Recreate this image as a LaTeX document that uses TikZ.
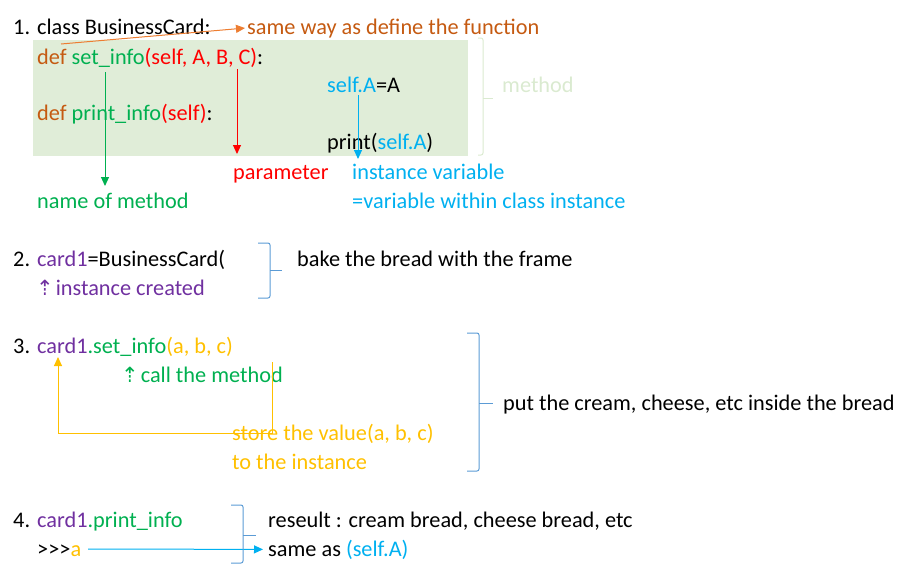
\documentclass[tikz,border=0pt]{standalone}
\usepackage{fontspec}
\setmainfont{Carlito}
\newfontfamily\arrowfont{DejaVu Sans}
\usepackage{tikz}
\usepackage{xcolor}
\usetikzlibrary{arrows.meta,positioning}
\definecolor{defBrown}{RGB}{197,90,17}
\definecolor{linkOrange}{RGB}{237,125,49}
\definecolor{codeGreen}{RGB}{0,176,80}
\definecolor{codeRed}{RGB}{255,0,0}
\definecolor{codeBlue}{RGB}{0,176,240}
\definecolor{codePurple}{RGB}{112,48,160}
\definecolor{codeYellow}{RGB}{255,192,0}
\definecolor{boxGreen}{RGB}{224,237,216}
\definecolor{paleGreen}{RGB}{218,234,208}
\definecolor{braceBlue}{RGB}{91,155,213}
\tikzset{
  txt/.style={anchor=base west, inner sep=0pt, font=\fontsize{22.3}{26}\selectfont},
  tip/.style={-{Triangle[length=9pt,width=8pt]}, line width=1pt},
  brace/.style={braceBlue, line width=1pt, rounded corners=2pt},
}
\newcommand{\uparr}{{\arrowfont\fontsize{21}{26}\selectfont\kern-1pt ⇡}\hspace{2pt}}

\begin{document}
\begin{tikzpicture}[x=1pt,y=-1pt]
                    \useasboundingbox (0,0) rectangle (909,574);
                    \fill[boxGreen] (33,40) rectangle (468,156);

                    % 1. class
                    \node[txt] (num1) at (13,34) {1.};
                    \node[txt] (cls) at (37,34) {class BusinessCard:};
                    \node[txt, text=defBrown] (same) at (247,34) {same way as define the function};
                    \node[txt] (setinfo) at (37,64) {\textcolor{defBrown}{def} \textcolor{codeGreen}{set\_info}\textcolor{codeRed}{(self, A, B, C)}:};
                    \node[txt] (assign) at (327,92) {\textcolor{codeBlue}{self.A}=A};
                    \node[txt] (printinfo) at (37,120) {\textcolor{defBrown}{def} \textcolor{codeGreen}{print\_info}\textcolor{codeRed}{(self)}:};
                    \node[txt] (printcall) at (327,149) {print(\textcolor{codeBlue}{self.A})};
                    \node[txt, text=codeRed] (param) at (233,179) {parameter};
                    \node[txt, text=codeBlue] (instvar) at (352,179) {instance variable};
                    \node[txt, text=codeBlue] (within) at (352,208) {=variable within class instance};
                    \node[txt, text=codeGreen] (namemeth) at (37,208) {name of method};
                    \node[txt, text=paleGreen] (method) at (502,92) {method};

                    \coordinate (defstart) at (61,44);
                    \coordinate (greenA) at (105,72);
                    \coordinate (greenB) at (105,186);
                    \coordinate (redA) at (237,69);
                    \coordinate (redB) at (237,154);
                    \coordinate (blueA) at (358,95);
                    \coordinate (blueB) at (358,159);
                    \draw[tip, linkOrange] (defstart) -- ([xshift=-2pt]same.west);
                    \draw[tip, codeGreen] (greenA) -- (greenB);
                    \draw[tip, codeRed] (redA) -- (redB);
                    \draw[tip, codeBlue] (blueA) -- (blueB);
                    \draw[brace, paleGreen] (478,38) -- (483,38) -- (483,155) -- (478,155);
                    \draw[paleGreen, line width=1pt] (483,98) -- (493,98);

                    % 2. instance
                    \node[txt] (num2) at (13,266) {2.};
                    \node[txt] (card) at (37,266) {\textcolor{codePurple}{card1}=BusinessCard(};
                    \node[txt, text=codePurple] (created) at (37,295) {\uparr instance created};
                    \node[txt] (bake) at (297,266) {bake the bread with the frame};
                    \draw[brace] (258,243) -- (270,243) -- (270,298) -- (258,298);
                    \draw[braceBlue, line width=1pt] (270,270) -- (282,270);

                    % 3. set_info call
                    \node[txt] (num3) at (13,353) {3.};
                    \node[txt] (callset) at (37,353) {\textcolor{codePurple}{card1}\textcolor{codeGreen}{.set\_info}\textcolor{codeYellow}{(a, b, c)}};
                    \node[txt, text=codeGreen] (callmeth) at (122,382) {\uparr call the method};
                    \coordinate (yelTop) at (272,362);
                    \coordinate (yelCorner) at (272,433);
                    \coordinate (yelLeft) at (58,433);
                    \coordinate (yelTip) at (58,357);
                    \draw[tip, codeYellow] (yelTop) -- (yelCorner) -- (yelLeft) -- (yelTip);
                    \node[txt, text=codeYellow] (store) at (232,440) {store the value(a, b, c)};
                    \node[txt, text=codeYellow] (toinst) at (232,469) {to the instance};
                    \node[txt] (cream) at (503,410) {put the cream, cheese, etc inside the bread};
                    \draw[brace] (467,333) -- (479,333) -- (479,471) -- (467,471);
                    \draw[braceBlue, line width=1pt] (479,403) -- (493,403);

                    % 4. print_info call
                    \node[txt] (num4) at (13,527) {4.};
                    \node[txt] (callprint) at (37,527) {\textcolor{codePurple}{card1}\textcolor{codeGreen}{.print\_info}};
                    \node[txt] (prompt) at (37,556) {>\kern0pt>\kern0pt>\textcolor{codeYellow}{a}};
                    \node[txt] (result) at (268,527) {reseult : cream bread, cheese bread, etc};
                    \node[txt] (sameas) at (268,556) {same as \textcolor{codeBlue}{(self.A)}};
                    \coordinate (promptEnd) at (88,549);
                    \draw[tip, codeBlue] (promptEnd) -- ([xshift=-5pt]sameas.west);
                    \draw[brace] (231,505) -- (243,505) -- (243,563) -- (231,563);
                    \draw[braceBlue, line width=1pt] (243,535) -- (256,535);
                \end{tikzpicture}
\end{document}
